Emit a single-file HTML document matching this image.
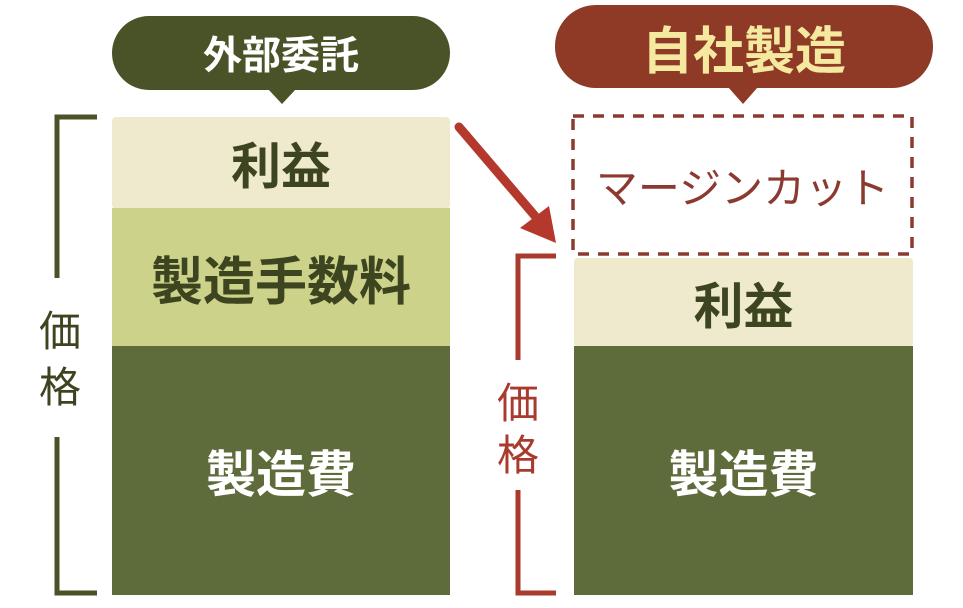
<!DOCTYPE html>
<html><head><meta charset="utf-8"><style>
body{margin:0;width:963px;height:608px;background:#fff;overflow:hidden;position:relative;font-family:"Liberation Sans","Noto Sans CJK JP",sans-serif;font-weight:bold}
.a{position:absolute;box-sizing:border-box;display:flex;align-items:center;justify-content:center}
</style></head><body>
<svg width="963" height="608" style="position:absolute;left:0;top:0">
<rect x="112" y="16" width="338" height="74" rx="37" fill="#4a5328"/>
<polygon points="268,89 296,89 282,104" fill="#4a5328"/>
<rect x="555" y="5" width="378" height="83" rx="41" fill="#8e3a26"/>
<polygon points="728,87 758,87 743,104" fill="#8e3a26"/>
<rect x="112" y="117" width="338" height="92" rx="4" fill="#efe9cd"/>
<rect x="112" y="208" width="338" height="139" fill="#cdd28a"/>
<rect x="112" y="346" width="338" height="249" fill="#5e6b3a"/>
<rect x="574" y="258" width="339" height="89" rx="4" fill="#efe9cd"/>
<rect x="574" y="346" width="339" height="249" fill="#5e6b3a"/>
<rect x="573" y="116" width="339" height="138" fill="none" stroke="#8b3a30" stroke-width="3.5" stroke-dasharray="11,9"/>
<path d="M97,117 H57 V278 M57,437 V593 H97" fill="none" stroke="#4a5328" stroke-width="5"/>
<path d="M556,256 H518 V360 M518,490 V593 H556" fill="none" stroke="#a83a2e" stroke-width="5"/>
<line x1="459" y1="127" x2="535" y2="216" stroke="#b5382c" stroke-width="9" stroke-linecap="round"/>
<polygon points="520,228 556,243 549,206" fill="#b5382c"/>
</svg>
<div class="a" style="left:112px;top:16px;width:338px;height:74px;color:#fff;font-size:39px">外部委託</div>
<div class="a" style="left:555px;top:5px;width:378px;height:83px;color:#f5e9a0;font-size:51px">自社製造</div>
<div class="a" style="left:112px;top:117px;width:338px;height:92px;color:#3d4520;font-size:50px">利益</div>
<div class="a" style="left:112px;top:208px;width:338px;height:139px;color:#3d4520;font-size:52px">製造手数料</div>
<div class="a" style="left:112px;top:346px;width:338px;height:249px;color:#fff;font-size:50px">製造費</div>
<div class="a" style="left:573px;top:116px;width:339px;height:138px;color:#8b3a30;font-size:42px;font-weight:normal">マージンカット</div>
<div class="a" style="left:574px;top:258px;width:339px;height:89px;color:#3d4520;font-size:50px">利益</div>
<div class="a" style="left:574px;top:346px;width:339px;height:249px;color:#fff;font-size:50px">製造費</div>
<div class="a" style="left:30px;top:300px;width:60px;height:120px;color:#3d4520;font-size:42px;font-weight:normal;flex-direction:column;line-height:56px">価<br>格</div>
<div class="a" style="left:488px;top:375px;width:60px;height:110px;color:#a83a2e;font-size:42px;font-weight:normal;flex-direction:column;line-height:52px">価<br>格</div>
</body></html>
